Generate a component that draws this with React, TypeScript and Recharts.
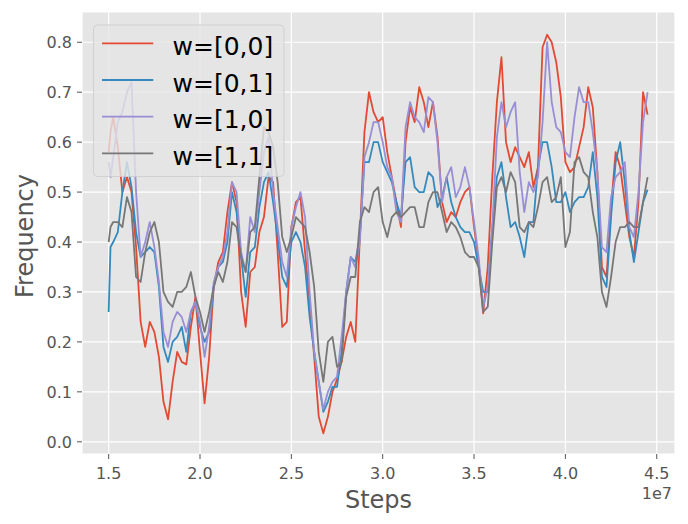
import React from 'react';
import { LineChart, Line, XAxis, YAxis, CartesianGrid } from 'recharts';

// steps in millions
const STEPS_M = [
  15.0, 15.1, 15.25, 15.5, 15.75, 16.0, 16.25, 16.5, 16.75, 17.0, 17.25, 17.5, 17.75, 18.0, 18.25, 18.5, 18.75,
  19.0, 19.25, 19.5, 19.75, 20.0, 20.25, 20.5, 20.75, 21.0, 21.25, 21.5, 21.75, 22.0, 22.25, 22.5, 22.75,
  23.0, 23.25, 23.5, 23.75, 24.0, 24.25, 24.5, 24.75, 25.0, 25.25, 25.5, 25.75, 26.0, 26.25, 26.5, 26.75,
  27.0, 27.25, 27.5, 27.75, 28.0, 28.25, 28.5, 28.75, 29.0, 29.25, 29.5, 29.75, 30.0, 30.25, 30.5, 30.75,
  31.0, 31.25, 31.5, 31.75, 32.0, 32.25, 32.5, 32.75, 33.0, 33.25, 33.5, 33.75, 34.0, 34.25, 34.5, 34.75,
  35.0, 35.25, 35.5, 35.75, 36.0, 36.25, 36.5, 36.75, 37.0, 37.25, 37.5, 37.75, 38.0, 38.25, 38.5, 38.75,
  39.0, 39.25, 39.5, 39.75, 40.0, 40.25, 40.5, 40.75, 41.0, 41.25, 41.5, 41.75, 42.0, 42.25, 42.5, 42.75,
  43.0, 43.25, 43.5, 43.75, 44.0, 44.25, 44.5,
];

const W00 = [
  0.58, 0.62, 0.65, 0.59, 0.50, 0.53, 0.50, 0.39, 0.24, 0.19, 0.24, 0.22, 0.17, 0.08, 0.045, 0.12, 0.18,
  0.16, 0.155, 0.23, 0.29, 0.18, 0.077, 0.17, 0.31, 0.36, 0.38, 0.46, 0.52, 0.48, 0.30, 0.23, 0.34,
  0.35, 0.42, 0.45, 0.53, 0.52, 0.38, 0.23, 0.24, 0.43, 0.48, 0.49, 0.38, 0.28, 0.17, 0.05, 0.017,
  0.05, 0.10, 0.125, 0.16, 0.21, 0.24, 0.20, 0.41, 0.62, 0.70, 0.66, 0.64, 0.65, 0.58, 0.53, 0.48,
  0.43, 0.60, 0.67, 0.64, 0.71, 0.68, 0.63, 0.68, 0.61, 0.48, 0.44, 0.46, 0.45, 0.48, 0.50, 0.51,
  0.43, 0.36, 0.257, 0.35, 0.53, 0.68, 0.77, 0.60, 0.56, 0.59, 0.57, 0.55, 0.58, 0.51, 0.55, 0.79,
  0.815, 0.80, 0.76, 0.69, 0.56, 0.54, 0.55, 0.59, 0.63, 0.71, 0.67, 0.54, 0.35, 0.33, 0.47, 0.58,
  0.55, 0.48, 0.41, 0.37, 0.48, 0.70, 0.655,
];

const W01 = [
  0.26, 0.39, 0.40, 0.42, 0.50, 0.56, 0.51, 0.42, 0.37, 0.38, 0.39, 0.38, 0.31, 0.19, 0.16, 0.20, 0.21,
  0.23, 0.18, 0.26, 0.28, 0.23, 0.20, 0.22, 0.31, 0.35, 0.36, 0.40, 0.50, 0.46, 0.37, 0.29, 0.38,
  0.39, 0.47, 0.52, 0.54, 0.48, 0.41, 0.33, 0.31, 0.40, 0.42, 0.40, 0.35, 0.25, 0.18, 0.12, 0.06,
  0.08, 0.11, 0.11, 0.18, 0.30, 0.37, 0.36, 0.41, 0.56, 0.56, 0.60, 0.60, 0.56, 0.54, 0.52, 0.48,
  0.45, 0.56, 0.57, 0.51, 0.50, 0.50, 0.54, 0.53, 0.47, 0.49, 0.53, 0.48, 0.45, 0.43, 0.42, 0.42,
  0.40, 0.35, 0.30, 0.30, 0.43, 0.53, 0.56, 0.49, 0.43, 0.44, 0.41, 0.37, 0.44, 0.44, 0.55, 0.60,
  0.60, 0.55, 0.48, 0.48, 0.50, 0.46, 0.48, 0.49, 0.49, 0.51, 0.58, 0.49, 0.33, 0.31, 0.45, 0.56,
  0.60, 0.52, 0.42, 0.36, 0.42, 0.48, 0.505,
];

const W10 = [
  0.56, 0.53, 0.57, 0.64, 0.66, 0.70, 0.72, 0.50, 0.37, 0.40, 0.44, 0.39, 0.32, 0.22, 0.19, 0.24, 0.26,
  0.25, 0.22, 0.26, 0.28, 0.24, 0.17, 0.23, 0.32, 0.35, 0.37, 0.42, 0.52, 0.50, 0.38, 0.34, 0.45,
  0.42, 0.50, 0.58, 0.61, 0.50, 0.43, 0.36, 0.33, 0.43, 0.47, 0.50, 0.45, 0.30, 0.18, 0.12, 0.065,
  0.10, 0.12, 0.13, 0.21, 0.30, 0.37, 0.35, 0.40, 0.57, 0.60, 0.64, 0.64, 0.60, 0.55, 0.53, 0.46,
  0.44, 0.63, 0.68, 0.65, 0.64, 0.62, 0.69, 0.68, 0.60, 0.48, 0.53, 0.55, 0.49, 0.51, 0.55, 0.51,
  0.44, 0.37, 0.27, 0.31, 0.43, 0.61, 0.68, 0.63, 0.66, 0.68, 0.54, 0.46, 0.52, 0.50, 0.53, 0.64,
  0.80, 0.68, 0.63, 0.62, 0.58, 0.57, 0.65, 0.71, 0.68, 0.68, 0.62, 0.54, 0.39, 0.38, 0.49, 0.53,
  0.54, 0.56, 0.43, 0.41, 0.50, 0.64, 0.70,
];

const W11 = [
  0.40, 0.43, 0.44, 0.44, 0.43, 0.49, 0.46, 0.33, 0.32, 0.38, 0.42, 0.44, 0.40, 0.30, 0.28, 0.27, 0.30,
  0.30, 0.31, 0.34, 0.29, 0.26, 0.22, 0.26, 0.31, 0.34, 0.32, 0.36, 0.44, 0.43, 0.37, 0.34, 0.42,
  0.43, 0.53, 0.63, 0.62, 0.59, 0.52, 0.41, 0.38, 0.41, 0.45, 0.44, 0.43, 0.38, 0.31, 0.18, 0.12,
  0.20, 0.21, 0.15, 0.16, 0.29, 0.33, 0.33, 0.44, 0.47, 0.46, 0.50, 0.51, 0.44, 0.41, 0.45, 0.46,
  0.45, 0.46, 0.47, 0.47, 0.43, 0.43, 0.48, 0.50, 0.50, 0.46, 0.42, 0.44, 0.43, 0.41, 0.38, 0.37,
  0.37, 0.35, 0.26, 0.27, 0.40, 0.51, 0.53, 0.50, 0.54, 0.52, 0.43, 0.42, 0.44, 0.43, 0.47, 0.52,
  0.53, 0.48, 0.49, 0.53, 0.39, 0.42, 0.56, 0.57, 0.54, 0.53, 0.46, 0.41, 0.30, 0.27, 0.33, 0.40,
  0.43, 0.43, 0.44, 0.43, 0.43, 0.48, 0.53,
];

const X_TICKS = [1.5e7, 2.0e7, 2.5e7, 3.0e7, 3.5e7, 4.0e7, 4.5e7];
const Y_TICKS = [0, 0.1, 0.2, 0.3, 0.4, 0.5, 0.6, 0.7, 0.8];
const SERIES_KEYS = ['w00', 'w01', 'w10', 'w11'];
const SERIES_NAMES = ['w=[0,0]', 'w=[0,1]', 'w=[1,0]', 'w=[1,1]'];
const SERIES_COLORS = ['#E24A33', '#348ABD', '#988ED5', '#777777'];
const X_LABEL = 'Steps';
const Y_LABEL = 'Frequency';
const X_OFFSET_LABEL = '1e7';

const SERIES_VALUES = [W00, W01, W10, W11];
const data = STEPS_M.map((s, i) => {
  const row: Record<string, number> = { step: s * 1e6 };
  SERIES_KEYS.forEach((k, j) => {
    row[k] = SERIES_VALUES[j][i];
  });
  return row;
});

const FONT = '"DejaVu Sans", sans-serif';

const XTick = (props: any) => {
  const { x, y, payload } = props;
  return (
    <text x={x} y={y + 20} textAnchor="middle" fontSize={16} fill="#555555" fontFamily={FONT}>
      {(payload.value / 1e7).toFixed(1)}
    </text>
  );
};

const YTick = (props: any) => {
  const { x, y, payload } = props;
  return (
    <text x={x - 5} y={y} dy="0.36em" textAnchor="end" fontSize={16} fill="#555555" fontFamily={FONT}>
      {Number(payload.value).toFixed(1)}
    </text>
  );
};

export default function App() {
  const legendRowY = [43.3, 80, 116.7, 153.3];
  return (
    <div style={{ position: 'absolute', left: 0, top: 0, width: 688, height: 524, background: '#ffffff' }}>
      <LineChart
        width={688}
        height={524}
        data={data}
        margin={{ top: 12, right: 13, bottom: 40, left: 22 }}
      >
        <CartesianGrid fill="#E5E5E5" fillOpacity={1} stroke="#ffffff" strokeWidth={1.2} />
        <XAxis
          dataKey="step"
          type="number"
          domain={[13.54e6, 46.0e6]}
          allowDataOverflow
          ticks={X_TICKS}
          height={30}
          axisLine={false}
          tickLine={{ stroke: '#555555', strokeWidth: 1 }}
          tickSize={5}
          tickMargin={0}
          tick={<XTick />}
          interval={0}
        />
        <YAxis
          type="number"
          domain={[-0.02443, 0.8606]}
          allowDataOverflow
          ticks={Y_TICKS}
          width={60}
          axisLine={false}
          tickLine={{ stroke: '#555555', strokeWidth: 1 }}
          tickSize={5}
          tickMargin={0}
          tick={<YTick />}
          interval={0}
        />
        {SERIES_KEYS.map((k, i) => (
          <Line
            key={k}
            dataKey={k}
            name={SERIES_NAMES[i]}
            type="linear"
            stroke={SERIES_COLORS[i]}
            strokeWidth={1.8}
            strokeLinejoin="round"
            dot={false}
            activeDot={false}
            isAnimationActive={false}
          />
        ))}
      </LineChart>
      <svg
        width={688}
        height={524}
        style={{ position: 'absolute', left: 0, top: 0, pointerEvents: 'none' }}
      >
        <rect
          x={93.5}
          y={25}
          width={190.5}
          height={151.5}
          rx={4}
          fill="#E5E5E5"
          fillOpacity={0.8}
          stroke="#CCCCCC"
          strokeOpacity={0.8}
          strokeWidth={1}
        />
        {SERIES_NAMES.map((n, i) => (
          <g key={n}>
            <line x1={102} x2={153.3} y1={legendRowY[i]} y2={legendRowY[i]} stroke={SERIES_COLORS[i]} strokeWidth={1.8} />
            <text x={172.5} y={legendRowY[i] + 11.7} fontSize={25} fill="#000000" fontFamily={FONT}>
              {n}
            </text>
          </g>
        ))}
        <text x={378.5} y={508} textAnchor="middle" fontSize={24} fill="#555555" fontFamily={FONT}>
          {X_LABEL}
        </text>
        <text
          x={32.5}
          y={236}
          textAnchor="middle"
          fontSize={24}
          fill="#555555"
          fontFamily={FONT}
          transform="rotate(-90 32.5 236)"
        >
          {Y_LABEL}
        </text>
        <text x={672} y={499.3} textAnchor="end" fontSize={16} fill="#555555" fontFamily={FONT}>
          {X_OFFSET_LABEL}
        </text>
      </svg>
    </div>
  );
}
